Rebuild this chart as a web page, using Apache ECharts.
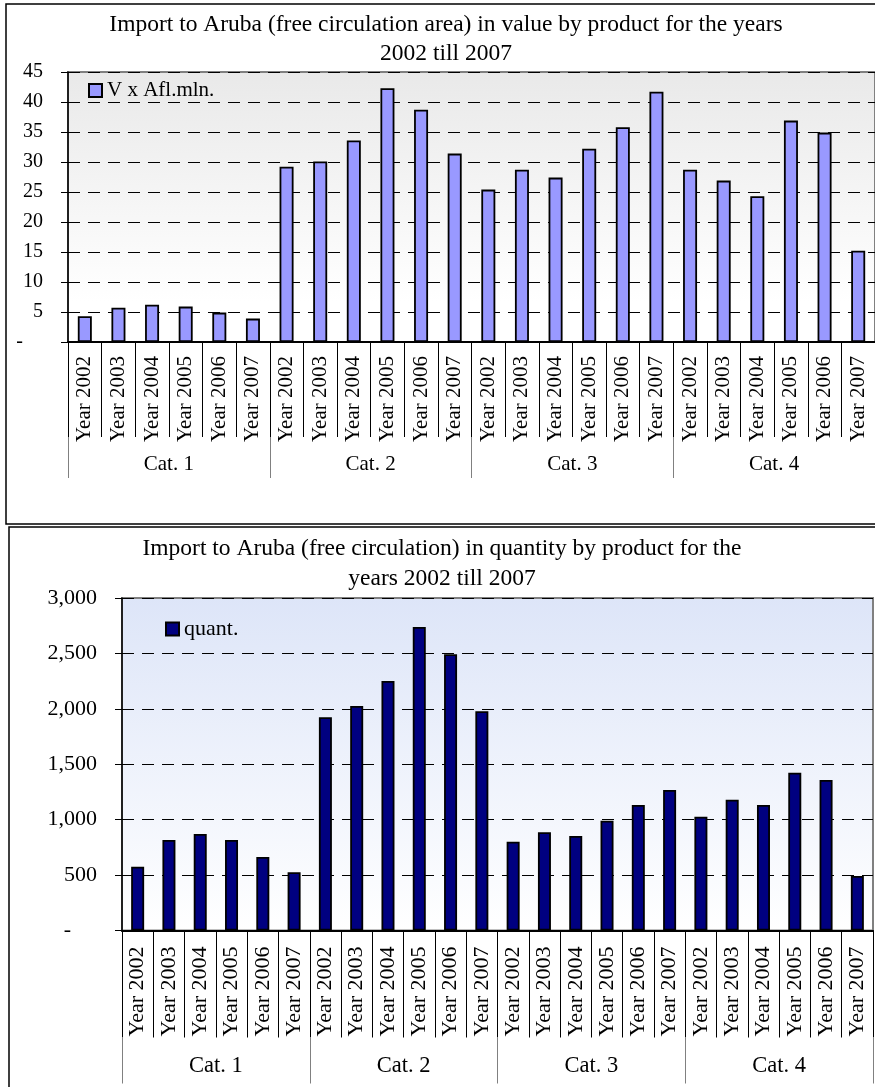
<!DOCTYPE html>
<html>
<head>
<meta charset="utf-8">
<script src="https://cdn.jsdelivr.net/npm/echarts@6/dist/echarts.min.js"></script>
<style>
html,body{margin:0;padding:0;background:#fff;}
#chart{width:875px;height:1087px;}
</style>
</head>
<body>
<div id="chart"></div>
<script>
// ---- data ----
var categories = ['Cat. 1', 'Cat. 2', 'Cat. 3', 'Cat. 4'];
var years = ['Year 2002', 'Year 2003', 'Year 2004', 'Year 2005', 'Year 2006', 'Year 2007'];
var valueName = 'V x Afl.mln.';
var quantName = 'quant.';
var valueCat1 = [4.3, 5.7, 6.2, 5.9, 4.9, 3.9];
var valueCat2 = [29.2, 30.1, 33.6, 42.3, 38.7, 31.4];
var valueCat3 = [25.4, 28.7, 27.4, 32.2, 35.8, 41.7];
var valueCat4 = [28.7, 26.9, 24.3, 36.9, 34.9, 15.2];
var quantCat1 = [575, 817, 871, 817, 663, 525];
var quantCat2 = [1924, 2026, 2251, 2738, 2492, 1978];
var quantCat3 = [801, 886, 853, 991, 1132, 1268];
var quantCat4 = [1027, 1180, 1132, 1424, 1358, 492];
var title1 = 'Import to Aruba (free circulation area) in value by product for the years\n2002 till 2007';
var title2 = 'Import to Aruba (free circulation) in quantity by product for the\nyears 2002 till 2007';

// ---- derived ----
var yearLabels = [];
categories.forEach(function () { years.forEach(function (y) { yearLabels.push(y); }); });
var valueData = [].concat(valueCat1, valueCat2, valueCat3, valueCat4);
var quantData = [].concat(quantCat1, quantCat2, quantCat3, quantCat4);

var FONT = '"Liberation Serif", "Times New Roman", serif';

function yLabel(size, pad, comma) {
  return {
    margin: 25,
    fontFamily: FONT, fontSize: size, color: '#000',
    formatter: function (v) {
      if (v === 0) return '{z|-}';
      return comma ? v.toLocaleString('en-US') : String(v);
    },
    rich: { z: { fontFamily: FONT, fontSize: size, color: '#000', padding: [0, pad, 0, 0] } }
  };
}

var chart = echarts.init(document.getElementById('chart'), null, { renderer: 'canvas' });
chart.setOption({
  animation: false,
  backgroundColor: '#fff',
  graphic: [
    { type: 'rect', z: -10, shape: { x: 6, y: 4, width: 900, height: 520 }, style: { fill: '#fff', stroke: '#000', lineWidth: 1.5 } },
    { type: 'rect', z: -10, shape: { x: 9, y: 527, width: 900, height: 600 }, style: { fill: '#fff', stroke: '#000', lineWidth: 1.5 } }
  ],
  title: [
    { text: title1, left: 446, top: 10, textAlign: 'center', padding: 0,
      textStyle: { fontFamily: FONT, fontSize: 23.5, fontWeight: 'normal', color: '#000', lineHeight: 29 } },
    { text: title2, left: 442, top: 534, textAlign: 'center', padding: 0,
      textStyle: { fontFamily: FONT, fontSize: 23.5, fontWeight: 'normal', color: '#000', lineHeight: 30 } }
  ],
  legend: [
    { data: [valueName], left: 88, top: 80, padding: 0, icon: 'rect', itemWidth: 13, itemHeight: 13, itemGap: 5,
      textStyle: { fontFamily: FONT, fontSize: 21, color: '#000' } },
    { data: [quantName], left: 165, top: 618, padding: 0, icon: 'rect', itemWidth: 13, itemHeight: 13,
      textStyle: { fontFamily: FONT, fontSize: 22, color: '#000' } }
  ],
  grid: [
    { left: 68, top: 72, right: 0, bottom: 1087 - 342, show: true, borderColor: '#808080', borderWidth: 2,
      backgroundColor: { type: 'linear', x: 0, y: 0, x2: 0, y2: 1,
        colorStops: [{ offset: 0, color: '#e9e9e9' }, { offset: 0.85, color: '#ffffff' }, { offset: 1, color: '#ffffff' }] } },
    { left: 122, top: 598, right: 2, bottom: 1087 - 930.5, show: true, borderColor: '#808080', borderWidth: 2,
      backgroundColor: { type: 'linear', x: 0, y: 0, x2: 0, y2: 1,
        colorStops: [{ offset: 0, color: '#dde5f8' }, { offset: 1, color: '#ffffff' }] } }
  ],
  xAxis: [
    { gridIndex: 0, type: 'category', data: yearLabels, position: 'bottom',
      axisLine: { show: true, lineStyle: { color: '#000', width: 2 } },
      axisTick: { show: true, interval: 0, length: 95, lineStyle: { color: '#000', width: 1 } },
      axisLabel: { interval: 0, rotate: 90, margin: 14, fontFamily: FONT, fontSize: 21, color: '#000' } },
    { gridIndex: 0, type: 'category', data: categories, position: 'bottom', offset: 95,
      axisLine: { show: false },
      axisTick: { show: true, interval: 0, length: 41, lineStyle: { color: '#808080', width: 1 } },
      axisLabel: { interval: 0, margin: 17, fontFamily: FONT, fontSize: 21, color: '#000' } },
    { gridIndex: 1, type: 'category', data: yearLabels, position: 'bottom',
      axisLine: { show: true, lineStyle: { color: '#000', width: 2 } },
      axisTick: { show: true, interval: 0, length: 107, lineStyle: { color: '#000', width: 1 } },
      axisLabel: { interval: 0, rotate: 90, margin: 16, fontFamily: FONT, fontSize: 22, color: '#000' } },
    { gridIndex: 1, type: 'category', data: categories, position: 'bottom', offset: 107,
      axisLine: { show: false },
      axisTick: { show: true, interval: 0, length: 46, lineStyle: { color: '#808080', width: 1 } },
      axisLabel: { interval: 0, margin: 17, fontFamily: FONT, fontSize: 22.5, color: '#000' } }
  ],
  yAxis: [
    { gridIndex: 0, type: 'value', min: 0, max: 45, interval: 5,
      axisLine: { show: true, lineStyle: { color: '#000', width: 1.5 } },
      axisTick: { show: true, length: 7, lineStyle: { color: '#000' } },
      splitLine: { lineStyle: { color: '#000', type: [12, 8], width: 1 } },
      axisLabel: yLabel(20, 20, false) },
    { gridIndex: 1, type: 'value', min: 0, max: 3000, interval: 500,
      axisLine: { show: true, lineStyle: { color: '#000', width: 1.5 } },
      axisTick: { show: true, length: 7, lineStyle: { color: '#000' } },
      splitLine: { lineStyle: { color: '#000', type: [12, 8], width: 1 } },
      axisLabel: yLabel(22, 26, true) }
  ],
  series: [
    { name: valueName, type: 'bar', xAxisIndex: 0, yAxisIndex: 0, data: valueData, barWidth: 14,
      itemStyle: { color: '#9999ff', borderColor: '#000', borderWidth: 1.8 } },
    { name: quantName, type: 'bar', xAxisIndex: 2, yAxisIndex: 1, data: quantData, barWidth: 13,
      itemStyle: { color: '#000080', borderColor: '#000', borderWidth: 1.8 } }
  ]
});
</script>
</body>
</html>
